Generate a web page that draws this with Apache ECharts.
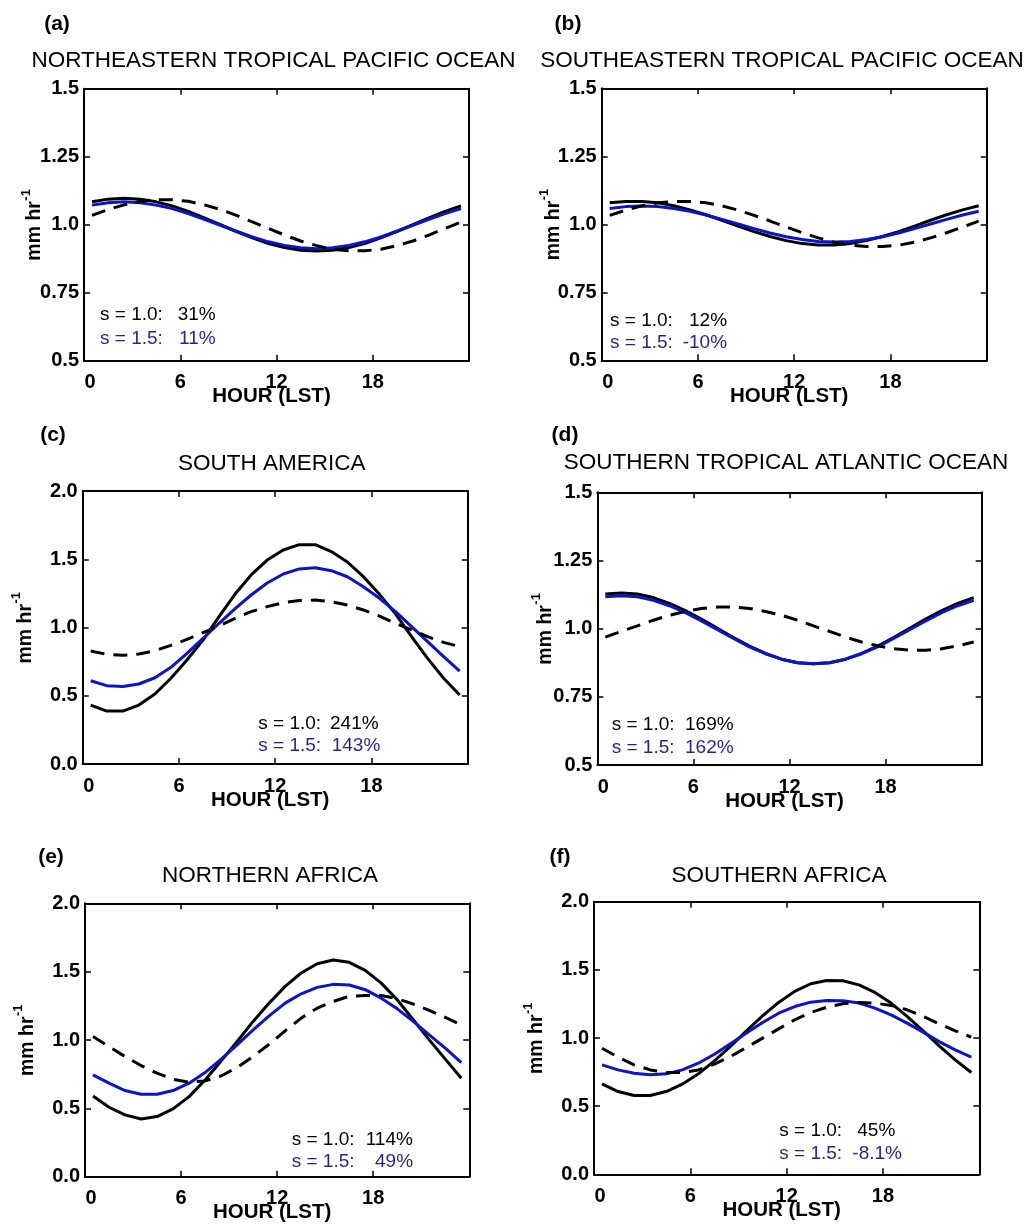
<!DOCTYPE html>
<html>
<head>
<meta charset="utf-8">
<script src="https://cdn.jsdelivr.net/npm/echarts/dist/echarts.min.js"></script>
<style>
  html, body { margin: 0; padding: 0; background: #ffffff; }
  #chart { width: 1026px; height: 1224px; }
</style>
</head>
<body>
<div id="chart"></div>
<script>
// Mean diurnal cycle of precipitation (mm/hr) by local solar hour, six regions.
// Dashed: observed; solid black: model with s = 1.0; solid blue: model with s = 1.5.

const hours = [0.5, 1.5, 2.5, 3.5, 4.5, 5.5, 6.5, 7.5, 8.5, 9.5, 10.5, 11.5,
               12.5, 13.5, 14.5, 15.5, 16.5, 17.5, 18.5, 19.5, 20.5, 21.5, 22.5, 23.5];
const xTicks = [0, 6, 12, 18];

const panelTags = ['(a)', '(b)', '(c)', '(d)', '(e)', '(f)'];
const panelTitles = [
  'NORTHEASTERN TROPICAL PACIFIC OCEAN',
  'SOUTHEASTERN TROPICAL PACIFIC OCEAN',
  'SOUTH AMERICA',
  'SOUTHERN TROPICAL ATLANTIC OCEAN',
  'NORTHERN AFRICA',
  'SOUTHERN AFRICA'
];
const yMin  = [0.5, 0.5, 0.0, 0.5, 0.0, 0.0];
const yMax  = [1.5, 1.5, 2.0, 1.5, 2.0, 2.0];
const yStep = [0.25, 0.25, 0.5, 0.25, 0.5, 0.5];

const label10 = 's = 1.0:';
const label15 = 's = 1.5:';
const stats10 = ['31%', '12%', '241%', '169%', '114%', '45%'];
const stats15 = ['11%', '-10%', '143%', '162%', '49%', '-8.1%'];

// (a) Northeastern tropical Pacific
const a_s10 = [1.084,1.094,1.097,1.094,1.084,1.069,1.049,1.025,1.000,0.975,0.952,0.931,0.916,0.906,0.903,0.906,0.916,0.931,0.952,0.975,1.000,1.025,1.049,1.069];
const a_s15 = [1.072,1.081,1.084,1.081,1.072,1.059,1.041,1.020,0.998,0.976,0.955,0.937,0.924,0.915,0.912,0.915,0.924,0.937,0.955,0.976,0.998,1.020,1.041,1.059];
const a_obs = [1.034,1.056,1.073,1.086,1.092,1.092,1.086,1.073,1.056,1.034,1.010,0.986,0.962,0.940,0.923,0.910,0.904,0.904,0.910,0.923,0.940,0.962,0.986,1.010];
// (b) Southeastern tropical Pacific
const b_s10 = [1.079,1.084,1.084,1.079,1.068,1.053,1.035,1.015,0.993,0.973,0.955,0.940,0.929,0.924,0.924,0.929,0.940,0.955,0.973,0.993,1.015,1.035,1.053,1.068];
const b_s15 = [1.058,1.065,1.067,1.065,1.058,1.048,1.034,1.018,1.001,0.984,0.968,0.954,0.944,0.937,0.935,0.937,0.944,0.954,0.968,0.984,1.001,1.018,1.034,1.048];
const b_obs = [1.033,1.052,1.068,1.079,1.084,1.084,1.079,1.068,1.052,1.033,1.012,0.990,0.969,0.950,0.934,0.923,0.918,0.918,0.923,0.934,0.950,0.969,0.990,1.012];
// (c) South America
const c_s10 = [0.432,0.388,0.388,0.432,0.513,0.628,0.762,0.908,1.079,1.245,1.385,1.494,1.568,1.607,1.607,1.556,1.480,1.372,1.243,1.100,0.933,0.774,0.628,0.505];
const c_s15 = [0.610,0.574,0.567,0.586,0.632,0.708,0.811,0.921,1.031,1.138,1.238,1.326,1.392,1.429,1.438,1.416,1.372,1.299,1.214,1.116,1.006,0.896,0.786,0.681];
const c_obs = [0.828,0.803,0.796,0.806,0.830,0.869,0.913,0.962,1.011,1.067,1.116,1.153,1.182,1.197,1.201,1.189,1.165,1.128,1.084,1.031,0.982,0.933,0.891,0.860];
// (d) Southern tropical Atlantic
const d_s10 = [1.127,1.131,1.127,1.114,1.093,1.066,1.035,1.001,0.967,0.936,0.909,0.888,0.875,0.871,0.875,0.888,0.909,0.936,0.967,1.001,1.035,1.066,1.093,1.114];
const d_s15 = [1.117,1.121,1.117,1.104,1.084,1.059,1.028,0.996,0.964,0.933,0.908,0.888,0.875,0.871,0.875,0.888,0.908,0.933,0.964,0.996,1.028,1.059,1.084,1.104];
const d_obs = [0.969,0.990,1.010,1.031,1.049,1.063,1.074,1.079,1.079,1.074,1.063,1.049,1.031,1.010,0.990,0.969,0.951,0.937,0.926,0.921,0.921,0.926,0.937,0.951];
// (e) Northern Africa
const e_s10 = [0.591,0.508,0.452,0.422,0.440,0.496,0.586,0.708,0.847,0.989,1.136,1.270,1.392,1.490,1.558,1.585,1.568,1.509,1.416,1.294,1.148,1.001,0.860,0.720];
const e_s15 = [0.745,0.684,0.630,0.603,0.603,0.630,0.684,0.762,0.860,0.965,1.074,1.177,1.270,1.338,1.385,1.407,1.402,1.368,1.306,1.228,1.136,1.038,0.940,0.835];
const e_obs = [1.026,0.952,0.879,0.813,0.757,0.713,0.691,0.701,0.737,0.799,0.879,0.969,1.067,1.160,1.233,1.282,1.319,1.326,1.326,1.302,1.263,1.216,1.165,1.111];
// (f) Southern Africa
const f_s10 = [0.663,0.607,0.578,0.578,0.607,0.661,0.737,0.832,0.938,1.053,1.163,1.261,1.342,1.398,1.422,1.420,1.390,1.334,1.256,1.158,1.053,0.942,0.840,0.747];
const f_s15 = [0.803,0.766,0.742,0.730,0.737,0.766,0.815,0.881,0.957,1.036,1.114,1.182,1.231,1.263,1.275,1.273,1.256,1.219,1.170,1.109,1.043,0.974,0.913,0.859];
const f_obs = [0.925,0.859,0.803,0.766,0.747,0.747,0.766,0.808,0.864,0.930,0.999,1.067,1.133,1.187,1.226,1.251,1.261,1.256,1.239,1.207,1.158,1.104,1.053,1.006];

const runs = [
  [a_s10, a_s15, a_obs],
  [b_s10, b_s15, b_obs],
  [c_s10, c_s15, c_obs],
  [d_s10, d_s15, d_obs],
  [e_s10, e_s15, e_obs],
  [f_s10, f_s15, f_obs]
];

// Page layout of each panel: plot box, tag, title, annotation and axis-name placement.
const layout = [
  { box: [84, 88.7, 385, 272],    tag: [57, 24],   title: [273.5, 61], note: [100, 177.7, 179, 315, 339],      yName: 49 },
  { box: [601.7, 88.3, 385, 272], tag: [568, 24],  title: [782, 61],   note: [610, 689, 682.7, 320.7, 342.7],  yName: 48 },
  { box: [82.7, 491, 385, 273],   tag: [53, 435],  title: [271.7, 464], note: [258.3, 330, 331.7, 723.3, 746], yName: 57 },
  { box: [597.3, 492.3, 384.4, 272.7], tag: [565, 435], title: [786, 463], note: [611.7, 685, 685, 725, 747.3], yName: 52 },
  { box: [85, 903.3, 384.3, 273.4], tag: [51, 857], title: [270, 876], note: [291.7, 365.7, 375, 1139.3, 1161.7], yName: 57.5 },
  { box: [594, 901.7, 385.3, 272.6], tag: [560, 857], title: [779, 876], note: [779.3, 857.3, 852.3, 1131, 1153.3], yName: 57 }
];

const FONT = '"Liberation Sans", Arial, Helvetica, sans-serif';
const BLACK = '#000000';
const LINE_BLUE = '#0a14c8';
const TEXT_BLUE = '#2b1f8f';
const NOTE_FONT = '19px ' + FONT;

function yFmt(v) {
  const twice = v * 2;
  return Math.abs(twice - Math.round(twice)) < 1e-9 ? v.toFixed(1) : v.toFixed(2);
}

// hour labels; the "0" sits a little right of the corner
function xFmt(v) {
  if (!xTicks.includes(v)) return '';
  return v === 0 ? '{z|0}' : String(v);
}

const axisLine = { show: true, onZero: false, lineStyle: { color: BLACK, width: 2 } };
const axisTick = { show: true, inside: true, length: 6, lineStyle: { color: BLACK, width: 1.5 } };
const tickFont = { fontFamily: FONT, fontWeight: 'bold', fontSize: 20, color: BLACK };

const grids = [], xAxes = [], yAxes = [], series = [], graphics = [];

layout.forEach((L, i) => {
  const [left, top, width, height] = L.box;
  grids.push({ left, top, width, height, containLabel: false });

  // bottom / top x axes
  xAxes.push({
    type: 'value', gridIndex: i, position: 'bottom', min: 0, max: 24, interval: 6,
    axisLine, axisTick, splitLine: { show: false },
    axisLabel: Object.assign({}, tickFont, {
      formatter: xFmt, margin: 12,
      rich: { z: Object.assign({}, tickFont, { padding: [0, 0, 0, 12] }) }
    })
  });
  xAxes.push({
    type: 'value', gridIndex: i, position: 'top', min: 0, max: 24, interval: 6,
    axisLine, axisTick, splitLine: { show: false }, axisLabel: { show: false }
  });

  // left / right y axes
  yAxes.push({
    type: 'value', gridIndex: i, position: 'left', min: yMin[i], max: yMax[i], interval: yStep[i],
    axisLine, axisTick, splitLine: { show: false },
    axisLabel: Object.assign({}, tickFont, { formatter: yFmt, margin: 5 })
  });
  yAxes.push({
    type: 'value', gridIndex: i, position: 'right', min: yMin[i], max: yMax[i], interval: yStep[i],
    axisLine, axisTick, splitLine: { show: false }, axisLabel: { show: false }
  });

  const [s10, s15, obs] = runs[i];
  const toPts = arr => hours.map((h, k) => [h, arr[k]]);
  const base = { type: 'line', xAxisIndex: 2 * i, yAxisIndex: 2 * i, showSymbol: false, symbol: 'none', silent: true, animation: false };
  series.push(Object.assign({}, base, { name: 's10_' + i, data: toPts(s10), z: 2, lineStyle: { color: BLACK, width: 3 } }));
  series.push(Object.assign({}, base, { name: 's15_' + i, data: toPts(s15), z: 3, lineStyle: { color: LINE_BLUE, width: 3 } }));
  series.push(Object.assign({}, base, { name: 'obs_' + i, data: toPts(obs), z: 4, lineStyle: { color: BLACK, width: 3, type: [14, 9] } }));

  // panel tag and region title
  graphics.push({ type: 'text', x: L.tag[0], y: L.tag[1], style: {
    text: panelTags[i], font: 'bold 21px ' + FONT, fill: BLACK, textAlign: 'center', textVerticalAlign: 'middle' } });
  graphics.push({ type: 'text', x: L.title[0], y: L.title[1], style: {
    text: panelTitles[i], font: '22.5px ' + FONT, fill: BLACK, textAlign: 'center', textVerticalAlign: 'middle' } });

  // skill annotations
  const [lx, v1x, v2x, y1, y2] = L.note;
  graphics.push({ type: 'text', x: lx, y: y1, style: { text: label10, font: NOTE_FONT, fill: BLACK, textAlign: 'left', textVerticalAlign: 'middle' } });
  graphics.push({ type: 'text', x: v1x, y: y1, style: { text: stats10[i], font: NOTE_FONT, fill: BLACK, textAlign: 'left', textVerticalAlign: 'middle' } });
  graphics.push({ type: 'text', x: lx, y: y2, style: { text: label15, font: NOTE_FONT, fill: TEXT_BLUE, textAlign: 'left', textVerticalAlign: 'middle' } });
  graphics.push({ type: 'text', x: v2x, y: y2, style: { text: stats15[i], font: NOTE_FONT, fill: TEXT_BLUE, textAlign: 'left', textVerticalAlign: 'middle' } });

  // x axis name
  graphics.push({ type: 'text', x: left + width / 2 - 5, y: top + height + 36, style: {
    text: 'HOUR (LST)', font: 'bold 20.5px ' + FONT, fill: BLACK, textAlign: 'center', textVerticalAlign: 'middle' } });

  // y axis name: "mm hr" with a raised "-1", reading bottom to top
  const cy = top + height / 2;
  const mx = left - L.yName;
  graphics.push({ type: 'text', x: mx, y: cy + 36, rotation: Math.PI / 2, style: {
    text: 'mm hr', font: 'bold 19.5px ' + FONT, fill: BLACK, textAlign: 'left', textVerticalAlign: 'middle' } });
  graphics.push({ type: 'text', x: mx - 9, y: cy - 24, rotation: Math.PI / 2, style: {
    text: '-1', font: 'bold 13px ' + FONT, fill: BLACK, textAlign: 'left', textVerticalAlign: 'middle' } });
});

const chart = echarts.init(document.getElementById('chart'), null, { renderer: 'canvas' });
chart.setOption({
  animation: false,
  backgroundColor: '#ffffff',
  textStyle: { fontFamily: FONT },
  grid: grids,
  xAxis: xAxes,
  yAxis: yAxes,
  series,
  graphic: { elements: graphics }
});
</script>
</body>
</html>
